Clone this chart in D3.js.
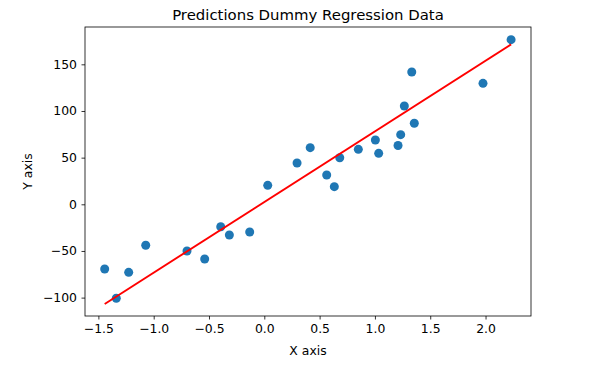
<!DOCTYPE html>
<html>
<head>
<meta charset="utf-8">
<script src="https://cdn.jsdelivr.net/npm/d3@7"></script>
<style>
  body { margin: 0; background: #fff; }
  text { font-family: "DejaVu Sans", sans-serif; fill: #000; }
</style>
</head>
<body>
<div id="chart"></div>
<script>
// scatter data
var xVals = [-1.443, -1.338, -1.226, -1.072, -0.699, -0.539, -0.394, -0.316, -0.132, 0.031,
             0.296, 0.415, 0.564, 0.633, 0.682, 0.850, 1.004, 1.034, 1.209, 1.233,
             1.266, 1.333, 1.356, 1.977, 2.231];
var yVals = [-69.3, -100.7, -72.9, -43.9, -50.0, -58.6, -24.0, -32.9, -29.7, 20.3,
             44.2, 60.7, 31.4, 18.9, 49.9, 58.9, 68.9, 54.6, 63.0, 74.6,
             105.3, 141.8, 86.8, 129.6, 176.4];

// regression prediction line (endpoints)
var predX = [-1.443, 2.231];
var predY = [-106.8, 171.4];

var xTicks = [-1.5, -1.0, -0.5, 0.0, 0.5, 1.0, 1.5, 2.0];
var yTicks = [-100, -50, 0, 50, 100, 150];

var svgWidth = 610;
var svgHeight = 366;

var margin = { top: 27, right: 79, bottom: 50, left: 85 };

var width = svgWidth - margin.left - margin.right;
var height = svgHeight - margin.top - margin.bottom;

var svg = d3.select("#chart")
  .append("svg")
  .attr("width", svgWidth)
  .attr("height", svgHeight);

var chart = svg.append("g")
  .attr("transform", `translate(${margin.left}, ${margin.top})`);

var xScale = d3.scaleLinear()
  .domain([-1.621, 2.411])
  .range([0, width]);

var yScale = d3.scaleLinear()
  .domain([-119.7, 190])
  .range([height, 0]);

var minus = s => s.replace("-", "\u2212");

var xAxis = d3.axisBottom(xScale)
  .tickValues(xTicks)
  .tickFormat(d => minus(d3.format(".1f")(d)))
  .tickSizeInner(3.5)
  .tickSizeOuter(0)
  .tickPadding(4.5);

var yAxis = d3.axisLeft(yScale)
  .tickValues(yTicks)
  .tickFormat(d => minus(String(d)))
  .tickSizeInner(3.5)
  .tickSizeOuter(0)
  .tickPadding(4.5);

// scatter points
chart.selectAll("circle")
  .data(xVals.map((x, i) => ({ x: x, y: yVals[i] })))
  .enter()
  .append("circle")
  .attr("cx", d => xScale(d.x))
  .attr("cy", d => yScale(d.y))
  .attr("r", 4.5)
  .attr("fill", "#1f77b4");

// prediction line
var line = d3.line()
  .x(d => xScale(d[0]))
  .y(d => yScale(d[1]));

chart.append("path")
  .datum(predX.map((x, i) => [x, predY[i]]))
  .attr("d", line)
  .attr("fill", "none")
  .attr("stroke", "red")
  .attr("stroke-width", 1.9);

// axes
var gx = chart.append("g")
  .attr("transform", `translate(0, ${height})`)
  .call(xAxis);

var gy = chart.append("g")
  .call(yAxis);

[gx, gy].forEach(function(g) {
  g.select(".domain").remove();
  g.selectAll(".tick line").attr("stroke", "#000").attr("stroke-width", 0.8);
  g.selectAll(".tick text")
    .style("font-family", "DejaVu Sans, sans-serif")
    .style("font-size", "12.4px")
    .attr("fill", "#000");
});

// frame
chart.append("rect")
  .attr("x", 0)
  .attr("y", 0)
  .attr("width", width)
  .attr("height", height)
  .attr("fill", "none")
  .attr("stroke", "#000")
  .attr("stroke-width", 0.8);

// title and axis labels
svg.append("text")
  .attr("x", margin.left + width / 2)
  .attr("y", 20)
  .attr("text-anchor", "middle")
  .style("font-size", "14.9px")
  .text("Predictions Dummy Regression Data");

svg.append("text")
  .attr("x", margin.left + width / 2)
  .attr("y", 355)
  .attr("text-anchor", "middle")
  .style("font-size", "12.4px")
  .text("X axis");

svg.append("text")
  .attr("transform", `translate(32, ${margin.top + height / 2}) rotate(-90)`)
  .attr("text-anchor", "middle")
  .style("font-size", "12.4px")
  .text("Y axis");
</script>
</body>
</html>
